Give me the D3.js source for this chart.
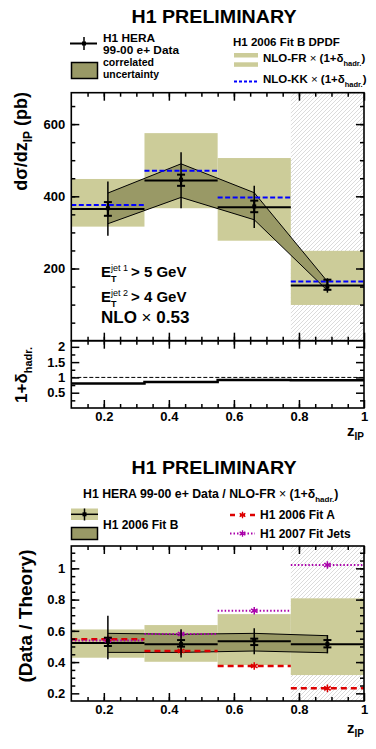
<!DOCTYPE html>
<html lang="en">
<head>
<meta charset="UTF-8">
<title>H1 preliminary dijet zIP</title>
<script src="https://d3js.org/d3.v7.min.js"></script>
<style>
  body { margin: 0; background: #fff; }
  svg text { font-family: "Liberation Sans", Arial, sans-serif; font-weight: bold; fill: #000; }
  .tick text { font-size: 13px; font-weight: bold; }
  .domain { display: none; }
</style>
</head>
<body>
<script>
// bins in z_IP
var binEdges = [0.1, 0.325, 0.55, 0.775, 1.0];
var zCentres = [0.2125, 0.4375, 0.6625, 0.8875];

// upper panel: d sigma / d zIP (pb)
var dataVal   = [367, 446, 372, 150];
var statHi    = [384, 460, 388, 169];
var statLo    = [346, 429, 356, 141];
var totHi     = [441, 522, 429, 173];
var totLo     = [291, 367, 312, 133];
var corrHi    = [409, 490, 410, 164];
var corrLo    = [324, 397, 335, 139];
var nloFR     = [365, 444, 370, 153];
var nloFRHi   = [448, 575, 506, 249];
var nloFRLo   = [316, 367, 277, 99];
var nloKK     = [376, 471, 397, 164];

// hadronisation correction
var hadCorr   = [0.80, 0.85, 0.915, 0.905];

// lower panel: data / theory
var ratioVal  = [0.535, 0.515, 0.541, 0.515];
var rStatHi   = [0.556, 0.541, 0.550, 0.541];
var rStatLo   = [0.503, 0.499, 0.509, 0.494];
var rTotHi    = [0.696, 0.610, 0.616, 0.573];
var rTotLo    = [0.418, 0.430, 0.450, 0.456];
var rCorrHi   = [0.584, 0.578, 0.584, 0.569];
var rCorrLo   = [0.462, 0.462, 0.471, 0.460];
var rLine     = [0.522, 0.515, 0.533, 0.515];
var rNloHi    = [0.609, 0.637, 0.707, 0.808];
var rNloLo    = [0.428, 0.402, 0.381, 0.317];
var fitA      = [0.546, 0.471, 0.375, 0.232];
var fitJets   = [0.539, 0.580, 0.729, 1.021];

// tick labels
var xTicks    = [0.2, 0.4, 0.6, 0.8, 1];
var yMainTicks = [200, 400, 600];
var yHadTicks = [0.5, 1, 1.5, 2];
var yRatTicks = [0.2, 0.4, 0.6, 0.8, 1];

var khaki = "#cccc99", olive = "#999966";

var svg = d3.select("body").append("svg").attr("width", 376).attr("height", 749);

var defs = svg.append("defs");
defs.append("pattern").attr("id", "hatch").attr("patternUnits", "userSpaceOnUse")
  .attr("width", 4).attr("height", 4)
  .append("path").attr("d", "M-1,1 l2,-2 M0,4 l4,-4 M3,5 l2,-2")
  .attr("stroke", "#c2c2c2").attr("stroke-width", 0.6);

var x = d3.scaleLinear().domain([0.1, 1]).range([71.3, 364]);
var yMain = d3.scaleLinear().domain([0, 687]).range([340.7, 92.7]);
var yHad = d3.scaleLinear().domain([0, 2.2]).range([408, 340.7]);
var yRat = d3.scaleLinear().domain([0.151, 1.143]).range([701, 546]);

var bins = d3.range(4);
var fmt = d3.format("~g");

function frame(y, xMinor, yMinor, yMajor, xLabels, yLabels) {
  var g = svg.append("g");
  var x0 = x.range()[0], x1 = x.range()[1];
  var yb = y.range()[0], yt = y.range()[1];
  g.append("g").attr("transform", "translate(0," + yb + ")")
    .call(d3.axisBottom(x).tickValues(xMinor).tickSize(-4).tickFormat(""));
  g.append("g").attr("transform", "translate(0," + yt + ")")
    .call(d3.axisTop(x).tickValues(xMinor).tickSize(-4).tickFormat(""));
  g.append("g").attr("transform", "translate(0," + yb + ")")
    .call(d3.axisBottom(x).tickValues(xTicks).tickSize(-8).tickPadding(4)
      .tickFormat(xLabels ? fmt : ""));
  g.append("g").attr("transform", "translate(0," + yt + ")")
    .call(d3.axisTop(x).tickValues(xTicks).tickSize(-8).tickFormat(""));
  g.append("g").attr("transform", "translate(" + x0 + ",0)")
    .call(d3.axisLeft(y).tickValues(yMinor).tickSize(-4).tickFormat(""));
  g.append("g").attr("transform", "translate(" + x1 + ",0)")
    .call(d3.axisRight(y).tickValues(yMinor).tickSize(-4).tickFormat(""));
  g.append("g").attr("transform", "translate(" + x0 + ",0)")
    .call(d3.axisLeft(y).tickValues(yMajor).tickSize(-8).tickPadding(6)
      .tickFormat(yLabels ? fmt : ""));
  g.append("g").attr("transform", "translate(" + x1 + ",0)")
    .call(d3.axisRight(y).tickValues(yMajor).tickSize(-8).tickFormat(""));
  g.selectAll(".tick line").attr("stroke", "#000").attr("stroke-width", 1.5);
  g.append("rect").attr("x", x0).attr("y", yt).attr("width", x1 - x0).attr("height", yb - yt)
    .attr("fill", "none").attr("stroke", "#000").attr("stroke-width", 1.6);
  return g;
}

function hatchBin(y) {
  svg.append("rect").attr("x", x(binEdges[3])).attr("y", y.range()[1])
    .attr("width", x(binEdges[4]) - x(binEdges[3]))
    .attr("height", y.range()[0] - y.range()[1]).attr("fill", "url(#hatch)");
}

function bandRects(y, hi, lo) {
  svg.append("g").selectAll("rect").data(bins).join("rect")
    .attr("x", function (i) { return x(binEdges[i]); })
    .attr("width", function (i) { return x(binEdges[i + 1]) - x(binEdges[i]); })
    .attr("y", function (i) { return y(hi[i]); })
    .attr("height", function (i) { return y(lo[i]) - y(hi[i]); })
    .attr("fill", khaki);
}

function corrBand(y, hi, lo) {
  var area = d3.area().x(function (i) { return x(zCentres[i]); })
    .y0(function (i) { return y(lo[i]); }).y1(function (i) { return y(hi[i]); });
  svg.append("path").attr("d", area(bins)).attr("fill", olive);
  var lineHi = d3.line().x(function (i) { return x(zCentres[i]); }).y(function (i) { return y(hi[i]); });
  var lineLo = d3.line().x(function (i) { return x(zCentres[i]); }).y(function (i) { return y(lo[i]); });
  svg.append("path").attr("d", lineHi(bins)).attr("fill", "none").attr("stroke", "#000").attr("stroke-width", 1);
  svg.append("path").attr("d", lineLo(bins)).attr("fill", "none").attr("stroke", "#000").attr("stroke-width", 1);
}

function binLines(y, vals, color, width, dash) {
  svg.append("g").selectAll("line").data(bins).join("line")
    .attr("x1", function (i) { return x(binEdges[i]); })
    .attr("x2", function (i) { return x(binEdges[i + 1]); })
    .attr("y1", function (i) { return y(vals[i]); })
    .attr("y2", function (i) { return y(vals[i]); })
    .attr("stroke", color).attr("stroke-width", width)
    .attr("stroke-dasharray", dash || null);
}

function points(y, val, sLo, sHi, tLo, tHi) {
  var g = svg.append("g");
  bins.forEach(function (i) {
    var cx = x(zCentres[i]);
    g.append("line").attr("x1", cx).attr("x2", cx).attr("y1", y(tLo[i])).attr("y2", y(tHi[i]))
      .attr("stroke", "#000").attr("stroke-width", 1.5);
    g.append("line").attr("x1", cx).attr("x2", cx).attr("y1", y(sLo[i])).attr("y2", y(sHi[i]))
      .attr("stroke", "#000").attr("stroke-width", 2.2);
    [sLo[i], sHi[i]].forEach(function (v) {
      g.append("line").attr("x1", cx - 4).attr("x2", cx + 4).attr("y1", y(v)).attr("y2", y(v))
        .attr("stroke", "#000").attr("stroke-width", 2);
    });
    g.append("rect").attr("x", cx - 2).attr("y", y(val[i]) - 2).attr("width", 4).attr("height", 4).attr("fill", "#000");
  });
}

var starType = d3.symbolAsterisk || d3.symbolCross;
function markers(y, vals, color) {
  svg.append("g").selectAll("path").data(bins).join("path")
    .attr("d", d3.symbol().type(starType).size(40))
    .attr("transform", function (i) { return "translate(" + x(zCentres[i]) + "," + y(vals[i]) + ")"; })
    .attr("stroke", color).attr("stroke-width", 1.5).attr("fill", color);
}

// ---------- upper panel ----------
hatchBin(yMain);
bandRects(yMain, nloFRHi, nloFRLo);
corrBand(yMain, corrHi, corrLo);
binLines(yMain, nloFR, "#000", 2);
binLines(yMain, nloKK, "#0000ff", 2, "5,2.5");
points(yMain, dataVal, statLo, statHi, totLo, totHi);
frame(yMain, d3.range(0.15, 1, 0.05), d3.range(50, 687, 50), yMainTicks, false, true);

// ---------- hadronisation panel ----------
svg.append("line").attr("x1", x(0.1)).attr("x2", x(1)).attr("y1", yHad(1)).attr("y2", yHad(1))
  .attr("stroke", "#000").attr("stroke-width", 1).attr("stroke-dasharray", "4,2");
var step = d3.line().curve(d3.curveStepAfter)
  .x(function (d) { return x(d[0]); }).y(function (d) { return yHad(d[1]); });
var stepPts = bins.map(function (i) { return [binEdges[i], hadCorr[i]]; });
stepPts.push([binEdges[4], hadCorr[3]]);
svg.append("path").attr("d", step(stepPts)).attr("fill", "none").attr("stroke", "#000").attr("stroke-width", 2.5);
frame(yHad, d3.range(0.15, 1, 0.05), [0.25, 0.75, 1.25, 1.75], yHadTicks, true, true);

// ---------- lower panel ----------
hatchBin(yRat);
bandRects(yRat, rNloHi, rNloLo);
corrBand(yRat, rCorrHi, rCorrLo);
binLines(yRat, rLine, "#000", 2);
binLines(yRat, fitA, "#dd0000", 2.5, "6,4");
binLines(yRat, fitJets, "#aa00aa", 2, "1.5,2");
markers(yRat, fitA, "#dd0000");
markers(yRat, fitJets, "#aa00aa");
points(yRat, ratioVal, rStatLo, rStatHi, rTotLo, rTotHi);
frame(yRat, d3.range(0.15, 1, 0.05), d3.range(0.25, 1.14, 0.05), yRatTicks, true, true);

// ---------- texts ----------
function title(yb) {
  svg.append("text").attr("x", 214).attr("y", yb).attr("text-anchor", "middle")
    .attr("font-size", 18).attr("textLength", 165).attr("lengthAdjust", "spacingAndGlyphs")
    .text("H1 PRELIMINARY");
}
title(23);
title(474);

function zLabel(yb) {
  var t = svg.append("text").attr("x", 364).attr("y", yb).attr("text-anchor", "end").attr("font-size", 15);
  t.append("tspan").text("z");
  t.append("tspan").attr("font-size", 10).attr("dy", 4).text("IP");
}
zLabel(436);
zLabel(733);

// y titles
var yt1 = svg.append("text").attr("transform", "translate(27,92) rotate(-90)")
  .attr("text-anchor", "end").attr("font-size", 18);
yt1.append("tspan").text("dσ/dz");
yt1.append("tspan").attr("font-size", 12).attr("dy", 5).text("IP");
yt1.append("tspan").attr("dy", -5).text(" (pb)");

var yt2 = svg.append("text").attr("transform", "translate(27,403) rotate(-90)")
  .attr("text-anchor", "start").attr("font-size", 17);
yt2.append("tspan").text("1+δ");
yt2.append("tspan").attr("font-size", 11).attr("dy", 5).text("hadr.");

svg.append("text").attr("transform", "translate(32,616) rotate(-90)")
  .attr("text-anchor", "middle").attr("font-size", 19).text("(Data / Theory)");

// cuts
function etLine(yb, jet, cut) {
  var t = svg.append("text").attr("x", 101).attr("y", yb).attr("font-size", 15);
  t.append("tspan").text("E");
  t.append("tspan").attr("font-size", 9).attr("dy", -6).attr("font-weight", "normal").text(jet);
  t.append("tspan").attr("font-size", 9).attr("x", 111).attr("dy", 11).text("T");
  t.append("tspan").attr("x", 131).attr("dy", -5).text("> " + cut + " GeV");
}
etLine(277, "jet 1", 5);
etLine(302, "jet 2", 4);
var nlo = svg.append("text").attr("x", 101).attr("y", 323).attr("font-size", 17);
nlo.append("tspan").text("NLO ");
nlo.append("tspan").attr("font-weight", "normal").text("×");
nlo.append("tspan").text(" 0.53");

// ---------- top legend ----------
svg.append("line").attr("x1", 70).attr("x2", 97).attr("y1", 43.5).attr("y2", 43.5).attr("stroke", "#000").attr("stroke-width", 2);
svg.append("line").attr("x1", 84).attr("x2", 84).attr("y1", 37).attr("y2", 50).attr("stroke", "#000").attr("stroke-width", 1.5);
svg.append("rect").attr("x", 82).attr("y", 41.5).attr("width", 4).attr("height", 4).attr("fill", "#000");

function legText(xp, yb, size, len, str, normal) {
  svg.append("text").attr("x", xp).attr("y", yb).attr("font-size", size)
    .attr("font-weight", normal ? "normal" : null)
    .attr("textLength", len).attr("lengthAdjust", "spacingAndGlyphs").text(str);
}
legText(103, 42, 10.5, 52, "H1 HERA");
legText(103, 54, 10.5, 76, "99-00 e+ Data");
svg.append("rect").attr("x", 71.5).attr("y", 62.5).attr("width", 26).attr("height", 16).attr("fill", olive).attr("stroke", "#000").attr("stroke-width", 1.5);
legText(103, 66, 10.5, 51, "correlated", true);
legText(103, 78, 10.5, 56, "uncertainty", true);

svg.append("text").attr("x", 233).attr("y", 46).attr("font-size", 11.5).text("H1 2006 Fit B DPDF");
svg.append("rect").attr("x", 234).attr("y", 53).attr("width", 24).attr("height", 4.5).attr("fill", khaki);
svg.append("rect").attr("x", 234).attr("y", 62.3).attr("width", 24).attr("height", 4.5).attr("fill", khaki);
svg.append("line").attr("x1", 234).attr("x2", 258).attr("y1", 81.5).attr("y2", 81.5)
  .attr("stroke", "#0000ff").attr("stroke-width", 2).attr("stroke-dasharray", "3,2");

function nloLegend(yb, name) {
  var t = svg.append("text").attr("x", 263).attr("y", yb).attr("font-size", 11.5);
  t.append("tspan").text(name + " ");
  t.append("tspan").attr("font-weight", "normal").text("×");
  t.append("tspan").text(" (1+δ");
  t.append("tspan").attr("font-size", 7.5).attr("dy", 4).text("hadr.");
  t.append("tspan").attr("dy", -4).text(")");
}
nloLegend(62, "NLO-FR");
nloLegend(82.5, "NLO-KK");

// ---------- bottom legend ----------
var st = svg.append("text").attr("x", 83).attr("y", 498).attr("font-size", 12.3);
st.append("tspan").text("H1 HERA 99-00 e+ Data / NLO-FR ");
st.append("tspan").attr("font-weight", "normal").text("×");
st.append("tspan").text(" (1+δ");
st.append("tspan").attr("font-size", 8).attr("dy", 4).text("hadr.");
st.append("tspan").attr("dy", -4).text(")");

svg.append("rect").attr("x", 71).attr("y", 508.5).attr("width", 27).attr("height", 11.5).attr("fill", khaki);
svg.append("line").attr("x1", 71).attr("x2", 98).attr("y1", 514.3).attr("y2", 514.3).attr("stroke", "#000").attr("stroke-width", 1.5);
svg.append("line").attr("x1", 84.5).attr("x2", 84.5).attr("y1", 508.5).attr("y2", 520.5).attr("stroke", "#000").attr("stroke-width", 1.5);
svg.append("rect").attr("x", 82.5).attr("y", 512.3).attr("width", 4).attr("height", 4).attr("fill", "#000");
svg.append("rect").attr("x", 71.5).attr("y", 527.5).attr("width", 26).attr("height", 12).attr("fill", olive).attr("stroke", "#000").attr("stroke-width", 1.5);
svg.append("text").attr("x", 103).attr("y", 529).attr("font-size", 12).text("H1 2006 Fit B");

svg.append("line").attr("x1", 230).attr("x2", 255).attr("y1", 515).attr("y2", 515)
  .attr("stroke", "#dd0000").attr("stroke-width", 2.5).attr("stroke-dasharray", "5,5");
svg.append("path").attr("d", d3.symbol().type(starType).size(30)).attr("transform", "translate(242.5,515)")
  .attr("stroke", "#dd0000").attr("stroke-width", 1.3).attr("fill", "#dd0000");
svg.append("text").attr("x", 260).attr("y", 519).attr("font-size", 12).text("H1 2006 Fit A");

svg.append("line").attr("x1", 230).attr("x2", 255).attr("y1", 533.5).attr("y2", 533.5)
  .attr("stroke", "#aa00aa").attr("stroke-width", 2).attr("stroke-dasharray", "1.5,2");
svg.append("path").attr("d", d3.symbol().type(starType).size(30)).attr("transform", "translate(242.5,533.5)")
  .attr("stroke", "#aa00aa").attr("stroke-width", 1.3).attr("fill", "#aa00aa");
svg.append("text").attr("x", 260).attr("y", 537.5).attr("font-size", 12).text("H1 2007 Fit Jets");
</script>
</body>
</html>
